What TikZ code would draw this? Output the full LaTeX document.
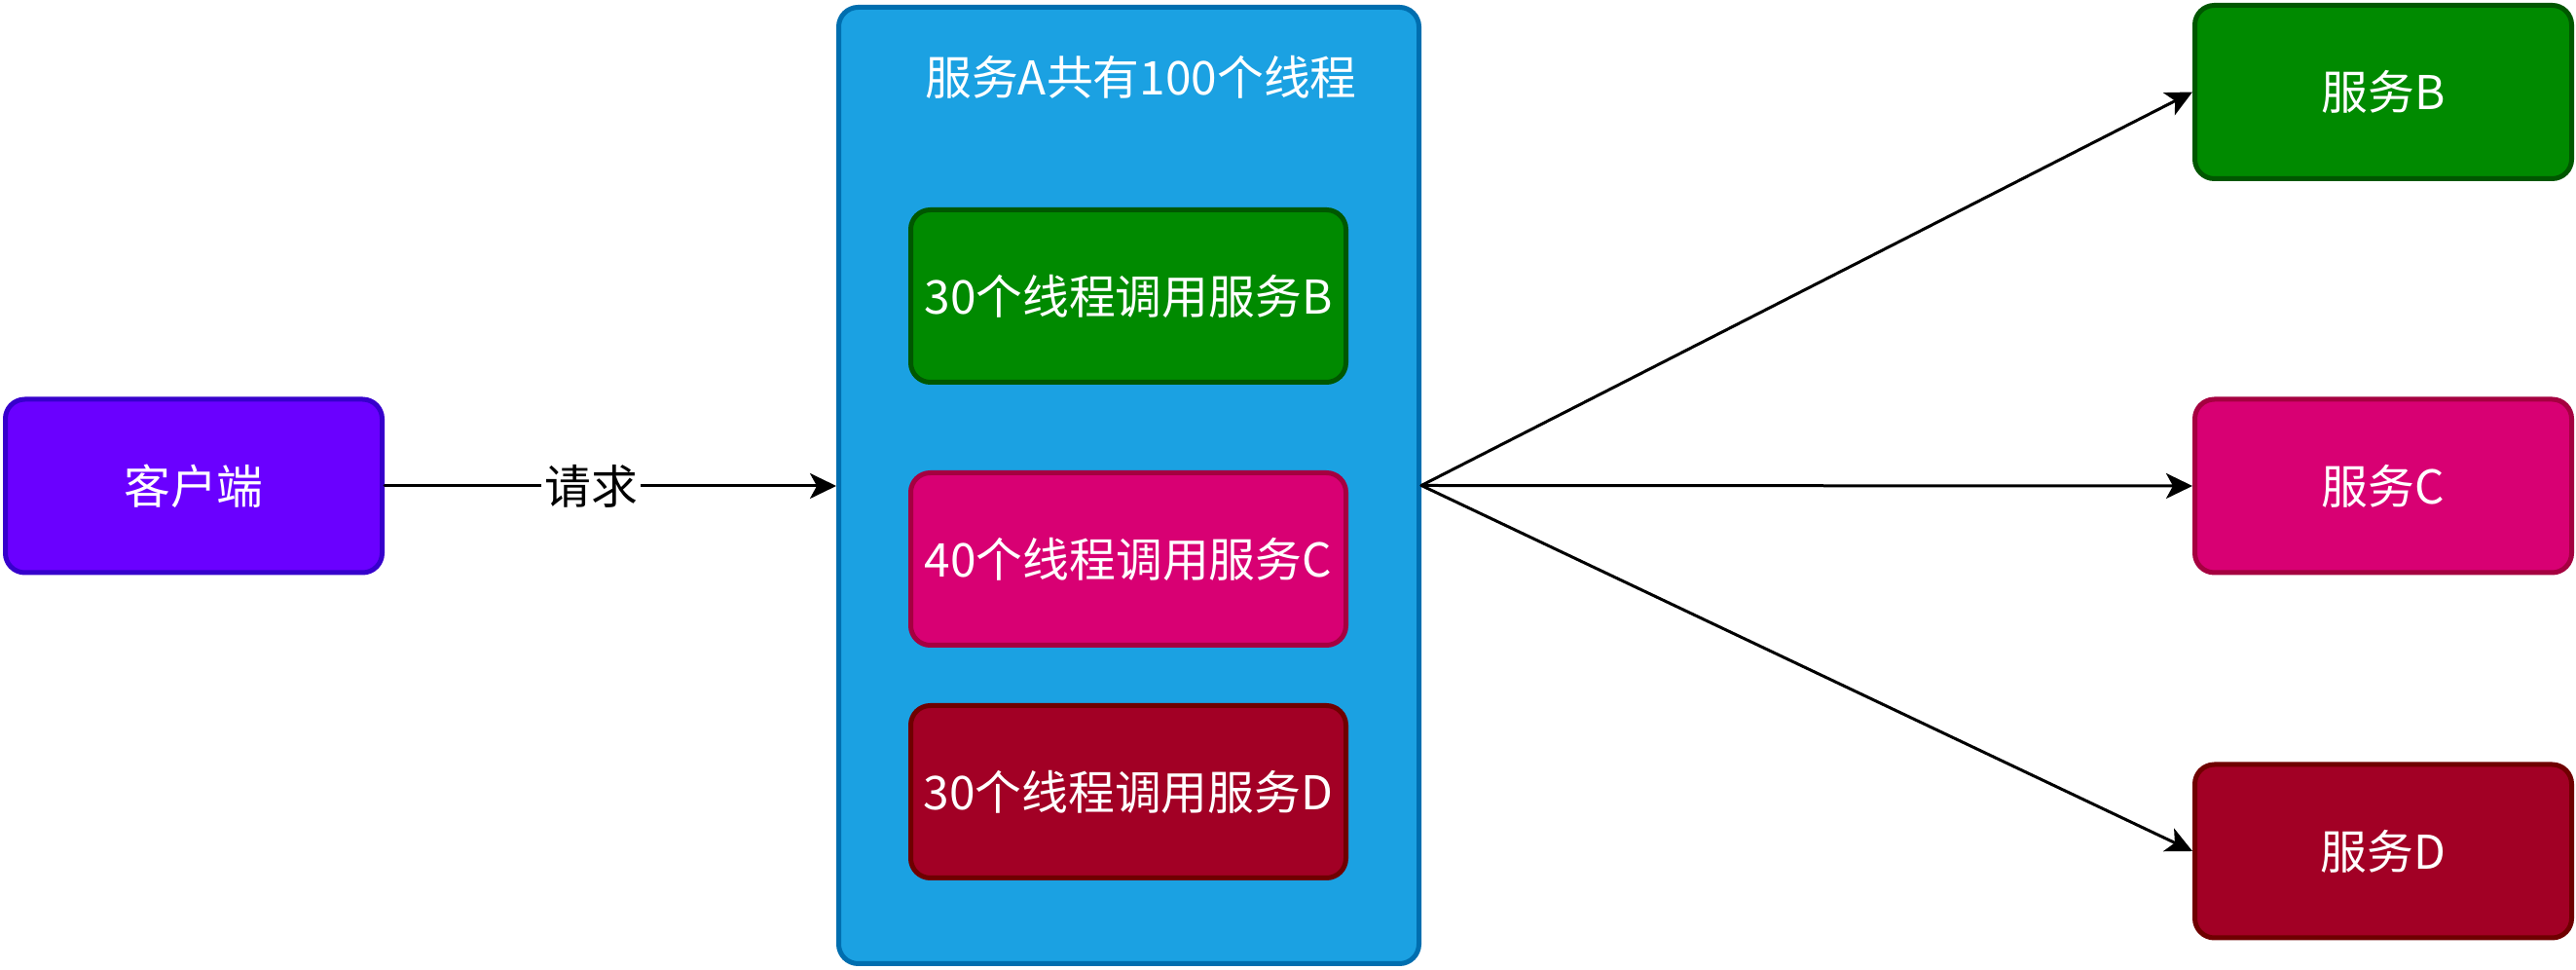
\documentclass[tikz,border=0pt]{standalone}
\usepackage{fontspec}
\setmainfont{Noto Sans CJK SC}
\usetikzlibrary{arrows.meta}

\definecolor{clientfill}{HTML}{6A00FF}
\definecolor{clientdraw}{HTML}{3700CC}
\definecolor{svcfill}{HTML}{1BA1E2}
\definecolor{svcdraw}{HTML}{006EAF}
\definecolor{bfill}{HTML}{008A00}
\definecolor{bdraw}{HTML}{005700}
\definecolor{cfill}{HTML}{D80073}
\definecolor{cdraw}{HTML}{A50040}
\definecolor{dfill}{HTML}{A20025}
\definecolor{ddraw}{HTML}{6F0000}

\begin{document}
\begin{tikzpicture}[line cap=round, line join=round, >={Stealth[length=0.27cm, width=0.26cm, inset=0.07cm]},
    box/.style={rounded corners=0.2cm, line width=0.05cm, text=white, inner sep=0pt,
      font=\fontsize{13.6}{16}\selectfont},
    small/.style={box, minimum width=3.87cm, minimum height=1.78cm},
    inner/.style={box, minimum width=4.47cm, minimum height=1.77cm},
    call/.style={->, line width=0.03cm}]
    \useasboundingbox (0,0) rectangle (26.46,9.96);

    \node[small, fill=clientfill, draw=clientdraw] (client) at (1.99,4.97) {客户端};

    \node[box, fill=svcfill, draw=svcdraw, minimum width=5.96cm, minimum height=9.82cm] (A) at (11.595,4.975) {};
    \node[text=white, font=\fontsize{13.6}{16}\selectfont] (title) at (11.72,9.17) {服务A共有100个线程};
    \node[inner, fill=bfill, draw=bdraw] (AB) at (11.59,6.92) {30个线程调用服务B};
    \node[inner, fill=cfill, draw=cdraw] (AC) at (11.59,4.22) {40个线程调用服务C};
    \node[inner, fill=dfill, draw=ddraw] (AD) at (11.59,1.83) {30个线程调用服务D};

    \node[small, fill=bfill, draw=bdraw] (B) at (24.48,9.015) {服务B};
    \node[small, fill=cfill, draw=cdraw] (C) at (24.48,4.97) {服务C};
    \node[small, fill=dfill, draw=ddraw] (D) at (24.48,1.22) {服务D};

    \draw[call] (client.east) -- (A.west |- client.east)
      node[pos=0.457, fill=white, inner sep=1pt, font=\fontsize{13.6}{16}\selectfont] (req) {请求};
    \draw[call] (A.east) -- (B.west);
    \draw[call] (A.east) -- (C.west);
    \draw[call] (A.east) -- (D.west);
  \end{tikzpicture}
\end{document}
